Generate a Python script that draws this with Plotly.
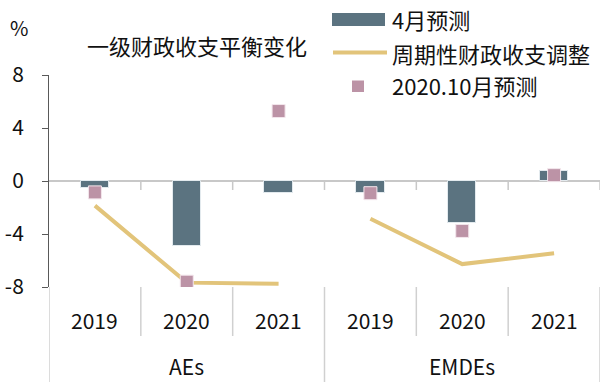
import plotly.graph_objects as go

groups = ["AEs", "EMDEs"]
years = ["2019", "2020", "2021"]
april_forecast = [-0.55, -4.88, -0.93, -0.88, -3.19, 0.75]
cyclical_adj = [-1.86, -7.67, -7.75, -2.85, -6.27, -5.46]
oct_forecast = [-0.86, -7.6, 5.28, -0.92, -3.77, 0.44]
yticks = [-8, -4, 0, 4, 8]
ytick_text = ["-8", "-4", "0", "4", "8"]

cats = [(g, y) for g in groups for y in years]
xpos = list(range(len(cats)))

BAR = "#5B7380"
GOLD = "#E2C47A"
PINK = "#BC93A6"
FONT = "Noto Sans CJK SC"
TXT = "#111111"

fig = go.Figure()
fig.add_trace(go.Bar(x=xpos, y=april_forecast, width=0.31,
                     marker=dict(color=BAR, line=dict(color="#e3eaee", width=1)),
                     showlegend=False))
n = len(years)
for gi in range(len(groups)):
    fig.add_trace(go.Scatter(x=xpos[gi*n:(gi+1)*n], y=cyclical_adj[gi*n:(gi+1)*n],
                             mode="lines", line=dict(color=GOLD, width=4),
                             showlegend=False))
fig.add_trace(go.Scatter(x=xpos, y=oct_forecast, mode="markers",
                         marker=dict(symbol="square", size=13, color=PINK,
                                     line=dict(color="#f3e6ec", width=1)),
                         showlegend=False))

W, H = 601, 382
L, R, T, B = 49, 1, 75, 95
pw, ph = W - L - R, H - T - B

def px(x):
    return (x - L) / pw

def py(y):
    return (H - B - y) / ph

shapes = []
# ticks below zero line at category boundaries
for k in range(len(cats)):
    xb = k + 0.5
    shapes.append(dict(type="line", xref="x", yref="y", x0=xb, x1=xb, y0=0, y1=-0.68,
                       line=dict(color="#c8c8c8", width=1.5)))
# separators below plot
for k in range(len(cats) + 1):
    xb = k - 0.5
    full = (k % n == 0)
    shapes.append(dict(type="line", xref="x", yref="paper", x0=xb, x1=xb, y0=0,
                       y1=(-B / ph) if full else py(336),
                       line=dict(color="#d0d0d0", width=1.5)))
# manual legend
shapes.append(dict(type="rect", xref="paper", yref="paper", x0=px(332), x1=px(385),
                   y0=py(26), y1=py(13), fillcolor=BAR, line=dict(width=0)))
shapes.append(dict(type="line", xref="paper", yref="paper", x0=px(333), x1=px(387),
                   y0=py(52.5), y1=py(52.5), line=dict(color=GOLD, width=4)))
shapes.append(dict(type="rect", xref="paper", yref="paper", x0=px(352), x1=px(364),
                   y0=py(92), y1=py(80.5), fillcolor=PINK, line=dict(width=0)))

ann = []
for i, (g, y) in enumerate(cats):
    ann.append(dict(x=i, y=py(320), xref="x", yref="paper", text=y, showarrow=False,
                    xanchor="center", yanchor="middle", font=dict(size=21, color=TXT)))
for gi, g in enumerate(groups):
    ann.append(dict(x=gi * n + (n - 1) / 2, y=py(366), xref="x", yref="paper", text=g,
                    showarrow=False, xanchor="center", yanchor="middle",
                    font=dict(size=21, color=TXT)))
ann.append(dict(x=px(85), y=py(45), xref="paper", yref="paper", text="一级财政收支平衡变化",
                showarrow=False, xanchor="left", yanchor="middle", font=dict(size=22, color=TXT)))
ann.append(dict(x=px(19), y=py(27), xref="paper", yref="paper", text="%",
                showarrow=False, xanchor="center", yanchor="middle", font=dict(size=20, color=TXT)))
legend_texts = [("4月预测", 19.5), ("周期性财政收支调整", 53), ("2020.10月预测", 85)]
for t, yy in legend_texts:
    ann.append(dict(x=px(390), y=py(yy), xref="paper", yref="paper", text=t,
                    showarrow=False, xanchor="left", yanchor="middle",
                    font=dict(size=22, color=TXT)))

fig.update_layout(
    width=W, height=H, margin=dict(l=L, r=R, t=T, b=B, pad=0),
    paper_bgcolor="white", plot_bgcolor="white",
    font=dict(family=FONT, size=21, color=TXT),
    shapes=shapes, annotations=ann, bargap=0,
    xaxis=dict(range=[-0.5, len(cats) - 0.5], visible=False, fixedrange=True),
    yaxis=dict(range=[-8, 8], tickvals=yticks, ticktext=ytick_text, showgrid=False,
               zeroline=True, zerolinecolor="#c8c8c8", zerolinewidth=2,
               showline=True, linecolor="#595959", linewidth=1,
               ticks="outside", ticklen=6, tickcolor="#595959",
               ticklabelstandoff=14, tickfont=dict(size=21, color=TXT), fixedrange=True),
)
fig.write_html("out.html", config={"displayModeBar": False},
               post_script="document.body.style.margin='0';document.body.style.padding='0';")
